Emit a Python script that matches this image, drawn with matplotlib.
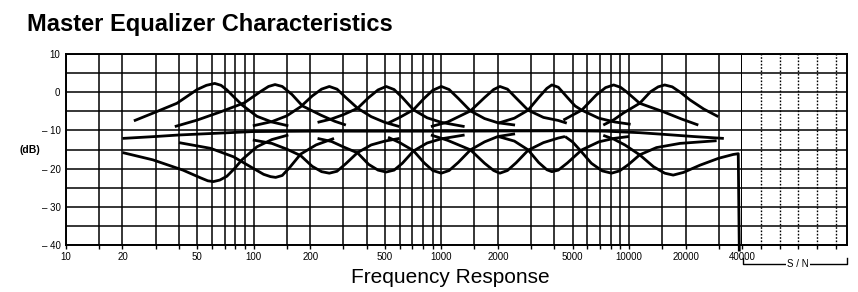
import matplotlib
matplotlib.use("Agg")
import matplotlib.pyplot as plt
from matplotlib.lines import Line2D

plt.rcParams['font.family'] = ['Liberation Sans', 'DejaVu Sans']

# axis grid and labels
grid_hz = [10, 15, 20, 30, 40, 50, 60, 70, 80, 90,
           100, 150, 200, 300, 400, 500, 600, 700, 800, 900,
           1000, 1500, 2000, 3000, 4000, 5000, 6000, 7000, 8000, 9000,
           10000, 15000, 20000, 30000, 40000]
label_hz = [10, 20, 50, 100, 200, 500, 1000, 2000, 5000, 10000, 20000, 40000]
db_ticks = [10, 0, -10, -20, -30, -40]
db_labels = ["10", "0", "\u2013 10", "\u2013 20", "\u2013 30", "\u2013 40"]
sn_marks = [1, 2, 3, 4, 5]

# flat response
flat_hz = [20, 30, 40, 60, 100, 200, 1000, 5000, 7500, 11400, 16000, 22000, 32000]
flat_db = [-12.1, -11.6, -11.2, -10.8, -10.3, -10.2, -10.2, -10.1, -10.2, -10.6, -11.1, -11.6, -12.1]

# 63 Hz band
boost_63_hz = [23, 29, 39, 50, 56, 62, 67, 72, 79, 87, 104, 125, 153]
boost_63_db = [-7.5, -5.5, -2.9, 0.7, 1.8, 2.3, 1.8, 0.6, -1.4, -3.4, -6.3, -7.8, -8.8]
cut_63_hz = [20, 29, 42, 52, 57, 61, 66, 72, 79, 87, 104, 125, 153]
cut_63_db = [-15.8, -17.7, -20.4, -22.4, -23.2, -23.4, -23.0, -22.0, -20.0, -17.6, -14.3, -12.4, -11.2]

# 125 Hz band
boost_125_hz = [38, 50, 67, 89, 109, 120, 130, 142, 160, 182, 228, 270, 310]
boost_125_db = [-9.0, -7.3, -5.1, -2.8, 0.2, 1.5, 2.0, 1.5, -0.6, -3.6, -6.0, -7.6, -8.6]
cut_125_hz = [40, 59, 78, 100, 113, 123, 131, 142, 155, 178, 215, 268]
cut_125_db = [-13.2, -14.7, -16.9, -20.0, -21.5, -22.1, -22.3, -21.8, -19.8, -16.2, -13.8, -12.1]

# 250 Hz band
boost_250_hz = [99, 125, 150, 178, 205, 230, 253, 278, 310, 358, 423, 500, 598]
boost_250_db = [-8.8, -7.7, -6.2, -3.8, -1.0, 0.8, 1.5, 0.8, -1.4, -4.2, -6.4, -7.9, -9.0]
cut_250_hz = [99, 125, 150, 178, 205, 230, 253, 278, 310, 358, 423, 500, 598]
cut_250_db = [-12.5, -13.4, -14.9, -16.6, -19.4, -20.8, -21.2, -20.7, -18.7, -15.8, -13.8, -12.8, -12.1]

# 500 Hz band
boost_500_hz = [219, 260, 300, 358, 410, 460, 508, 560, 620, 710, 840, 1000, 1330]
boost_500_db = [-7.9, -7.0, -5.9, -4.2, -1.4, 0.6, 1.5, 0.7, -1.4, -4.6, -6.7, -7.9, -9.0]
cut_500_hz = [219, 260, 300, 358, 410, 460, 508, 560, 620, 710, 840, 1000, 1330]
cut_500_db = [-12.1, -12.9, -14.3, -15.9, -18.9, -20.4, -20.9, -20.4, -18.6, -15.4, -13.3, -12.2, -11.2]

# 1 kHz band
boost_1k_hz = [520, 600, 710, 810, 900, 1000, 1100, 1230, 1430, 1700, 2000, 2470]
boost_1k_db = [-8.1, -6.6, -4.6, -1.6, 0.5, 1.5, 0.7, -1.6, -4.9, -6.9, -8.0, -8.6]
cut_1k_hz = [520, 600, 710, 810, 900, 1000, 1100, 1230, 1430, 1700, 2000, 2470]
cut_1k_db = [-11.8, -13.2, -15.3, -18.5, -20.5, -21.2, -20.5, -18.4, -15.1, -13.0, -11.6, -10.9]

# 2 kHz band
boost_2k_hz = [880, 1080, 1430, 1700, 1900, 2050, 2250, 2500, 2900, 3500, 4200, 4660]
boost_2k_db = [-9.0, -7.8, -4.9, -1.4, 0.7, 1.5, 0.8, -1.5, -4.7, -6.6, -7.4, -8.1]
cut_2k_hz = [880, 1080, 1430, 1700, 1900, 2050, 2250, 2500, 2900, 3500, 4200, 4560]
cut_2k_db = [-11.2, -12.6, -15.1, -18.6, -20.5, -21.2, -20.5, -18.5, -15.2, -13.2, -12.0, -11.6]

# 4 kHz band
boost_4k_hz = [2010, 2450, 2900, 3300, 3650, 3880, 4200, 4700, 5160, 5600, 6900, 8400, 10200]
boost_4k_db = [-8.1, -6.8, -4.7, -1.4, 1.0, 1.9, 1.3, -1.4, -3.6, -4.7, -6.8, -7.8, -8.4]
cut_4k_hz = [2010, 2450, 2900, 3300, 3650, 3880, 4200, 4700, 5600, 6900, 8300, 10000]
cut_4k_db = [-11.6, -12.8, -15.1, -18.4, -20.3, -20.8, -20.4, -18.5, -15.1, -13.0, -12.1, -11.6]

# 8 kHz band
boost_8k_hz = [4470, 5000, 5600, 6700, 7500, 8280, 9000, 9700, 11400, 15200, 19000, 23400]
boost_8k_db = [-7.3, -6.0, -4.7, -0.7, 1.2, 1.9, 1.3, 0.1, -2.9, -5.1, -7.0, -8.6]
cut_8k_hz = [4560, 5000, 5470, 6300, 7200, 8070, 8900, 9900, 11400, 14000, 18700, 29300]
cut_8k_db = [-11.6, -13.0, -15.1, -18.6, -20.6, -21.2, -20.6, -19.0, -16.4, -14.5, -13.4, -12.7]

# 16 kHz band (cut curve runs into the S/N drop)
boost_16k_hz = [7290, 8300, 9300, 10300, 11400, 13000, 14300, 15500, 17000, 19000, 21100, 25000, 29900]
boost_16k_db = [-8.6, -7.2, -5.5, -4.2, -2.9, 0.1, 1.4, 1.9, 1.4, -0.2, -2.0, -4.4, -6.4]
cut_16k_hz = [7290, 8300, 9500, 11400, 13500, 15500, 17200, 19500, 23900, 30000, 35900, 38200, 38700]
cut_16k_db = [-11.3, -12.3, -13.8, -16.4, -19.5, -21.2, -21.7, -21.0, -19.1, -17.3, -16.3, -16.1, -41.7]

W, H = 858, 292
fig = plt.figure(figsize=(W / 100, H / 100), dpi=100)


def fx(px):
    return px / W


def fy(py):
    return 1 - py / H


ax = fig.add_axes([fx(66), fy(245), fx(742) - fx(66), fy(54) - fy(245)])
ax.set_xscale("log")
ax.set_xlim(10, 40000)
ax.set_ylim(-40, 10)

for f in grid_hz:
    ax.axvline(f, color="black", lw=1.1, zorder=1)
for y in range(-40, 11, 5):
    ax.axhline(y, color="black", lw=1.1, zorder=1)

curves = [
    (flat_hz, flat_db),
    (boost_63_hz, boost_63_db), (cut_63_hz, cut_63_db),
    (boost_125_hz, boost_125_db), (cut_125_hz, cut_125_db),
    (boost_250_hz, boost_250_db), (cut_250_hz, cut_250_db),
    (boost_500_hz, boost_500_db), (cut_500_hz, cut_500_db),
    (boost_1k_hz, boost_1k_db), (cut_1k_hz, cut_1k_db),
    (boost_2k_hz, boost_2k_db), (cut_2k_hz, cut_2k_db),
    (boost_4k_hz, boost_4k_db), (cut_4k_hz, cut_4k_db),
    (boost_8k_hz, boost_8k_db), (cut_8k_hz, cut_8k_db),
    (boost_16k_hz, boost_16k_db), (cut_16k_hz, cut_16k_db),
]
for hz, db in curves:
    ax.plot(hz, db, color="black", lw=2.0, solid_joinstyle="round",
            solid_capstyle="butt", zorder=3, clip_on=False)

ax.set_xticks(grid_hz)
ax.set_xticklabels([str(f) if f in label_hz else "" for f in grid_hz])
ax.xaxis.set_minor_locator(plt.NullLocator())
ax.tick_params(axis="x", direction="out", length=3, width=1, pad=2, labelsize=7)
ax.set_yticks(db_ticks)
ax.set_yticklabels(db_labels)
ax.tick_params(axis="y", length=0, pad=4, labelsize=7)
for s in ax.spines.values():
    s.set_linewidth(1.4)

# S/N region to the right of 40 kHz
sn = fig.add_axes([fx(742), fy(245), fx(847) - fx(742), fy(54) - fy(245)])
sn.set_xlim(0, 5.6)
sn.set_ylim(-40, 10)
for m in sn_marks:
    sn.axvline(m, color="black", lw=1.0, linestyle=(0, (1.2, 1.2)), zorder=1)
for y in range(-40, 11, 5):
    sn.axhline(y, color="black", lw=1.1, zorder=1)
sn.set_xticks(sn_marks)
sn.set_xticklabels([])
sn.set_yticks([])
sn.tick_params(axis="x", direction="out", length=3, width=1)
sn.spines["left"].set_visible(False)
for s in ["top", "bottom", "right"]:
    sn.spines[s].set_linewidth(1.4)

# bracket under S/N
bx = [fx(743), fx(743), fx(847), fx(847)]
by = [fy(258), fy(264), fy(264), fy(258)]
fig.add_artist(Line2D(bx, by, color="black", lw=1.0))
fig.text(fx(798), fy(264), "S / N", ha="center", va="center", fontsize=7,
         bbox=dict(facecolor="white", edgecolor="none", pad=1))

fig.text(fx(20), fy(150), "(dB)", ha="left", va="center", fontsize=7.5, fontweight="bold")
fig.text(fx(27), fy(31), "Master Equalizer Characteristics", ha="left", va="baseline",
         fontsize=17, fontweight="bold")
fig.text(fx(450), fy(283), "Frequency Response", ha="center", va="baseline", fontsize=15)

fig.savefig("out.png", dpi=100, facecolor="white")
